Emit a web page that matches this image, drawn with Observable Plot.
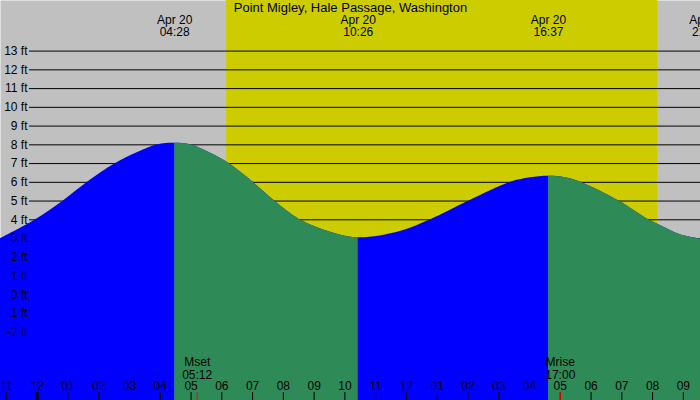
<!DOCTYPE html>
<html><head><meta charset="utf-8">
<script src="https://cdn.jsdelivr.net/npm/d3@7"></script>
<script src="https://cdn.jsdelivr.net/npm/@observablehq/plot@0.6"></script>
<style>body{margin:0;background:#fff}</style>
</head><body><div id="chart"></div>
<script>
const title = "Point Migley, Hale Passage, Washington";

// Tide heights (time, ft)
const readingTimes = [
  "2024-04-19 22:48:26", "2024-04-19 23:57", "2024-04-20 00:51", "2024-04-20 01:38",
  "2024-04-20 02:33", "2024-04-20 03:55", "2024-04-20 04:28",
  "2024-04-20 04:59", "2024-04-20 05:38", "2024-04-20 06:14", "2024-04-20 07:01",
  "2024-04-20 07:43", "2024-04-20 08:32", "2024-04-20 09:32", "2024-04-20 10:26",
  "2024-04-20 11:48", "2024-04-20 12:47", "2024-04-20 14:02", "2024-04-20 15:23",
  "2024-04-20 16:02", "2024-04-20 16:37", "2024-04-20 17:10", "2024-04-20 17:40",
  "2024-04-20 18:54", "2024-04-20 19:52", "2024-04-20 20:15", "2024-04-20 20:54",
  "2024-04-20 21:33:24"
];
const readingFt = [
  2.99, 4.0, 5.0, 6.0,
  7.0, 8.0, 8.09,
  8.0, 7.55, 7.0, 6.0,
  5.0, 4.0, 3.34, 3.04,
  3.38, 4.0, 5.0, 6.0,
  6.24, 6.32, 6.24, 6.0,
  5.0, 4.0, 3.7, 3.2,
  2.97
];

// High / low tide events
const extremeTimes = ["2024-04-20 04:28", "2024-04-20 10:26", "2024-04-20 16:37", "2024-04-20 21:46"];
const extremeLabels = ["Apr 20\n04:28", "Apr 20\n10:26", "Apr 20\n16:37", "Apr 20\n21:46"];

// Daylight (sunrise, sunset)
const sunTimes = ["2024-04-20 06:09", "2024-04-20 20:10"];

// Moon events
const moonTimes = ["2024-04-20 05:12", "2024-04-20 17:00"];
const moonLabels = ["Mset\n05:12", "Mrise\n17:00"];

// Axis ticks
const ftTicks = [-2, -1, 0, 1, 2, 3, 4, 5, 6, 7, 8, 9, 10, 11, 12, 13];
const hourTicks = [
  "2024-04-19 23:00", "2024-04-20 00:00", "2024-04-20 01:00", "2024-04-20 02:00",
  "2024-04-20 03:00", "2024-04-20 04:00", "2024-04-20 05:00", "2024-04-20 06:00",
  "2024-04-20 07:00", "2024-04-20 08:00", "2024-04-20 09:00", "2024-04-20 10:00",
  "2024-04-20 11:00", "2024-04-20 12:00", "2024-04-20 13:00", "2024-04-20 14:00",
  "2024-04-20 15:00", "2024-04-20 16:00", "2024-04-20 17:00", "2024-04-20 18:00",
  "2024-04-20 19:00", "2024-04-20 20:00", "2024-04-20 21:00"
];
const hourLabels = ["11","12","01","02","03","04","05","06","07","08","09","10",
                    "11","12","01","02","03","04","05","06","07","08","09"];

const xDomainText = ["2024-04-19 22:48:26", "2024-04-20 21:33:24"];
const yDomain = [-5.64, 15.7];

const colors = {rising: "#0000ff", falling: "#2e8b57", night: "#c0c0c0", day: "#cccc00"};

const p1 = d3.timeParse("%Y-%m-%d %H:%M:%S"), p2 = d3.timeParse("%Y-%m-%d %H:%M");
const parse = s => s.length > 16 ? p1(s) : p2(s);

const xDomain = xDomainText.map(parse);
const readings = readingTimes.map((t, i) => ({t: parse(t), ft: readingFt[i]}));
const extremes = extremeTimes.map((t, i) => ({t: parse(t), label: extremeLabels[i]}));

// falling intervals between consecutive extremes
const bounds = [xDomain[0], ...extremes.map(d => d.t).filter(t => t > xDomain[0] && t < xDomain[1]), xDomain[1]];
const ftAt = t => readings.find(d => +d.t === +t).ft;
const falling = [];
for (let i = 0; i < bounds.length - 1; i++) {
  if (ftAt(bounds[i + 1]) < ftAt(bounds[i])) falling.push([bounds[i], bounds[i + 1]]);
}

const hours = hourTicks.map((t, i) => ({t: parse(t), label: hourLabels[i]}));
const moons = moonTimes.map((t, i) => ({t: parse(t), label: moonLabels[i]}));
const sun = [{rise: parse(sunTimes[0]), set: parse(sunTimes[1])}];

const W = 700, H = 400;
const chart = Plot.plot({
  width: W, height: H,
  margin: 0,
  style: {fontFamily: "'Liberation Sans', Arial, sans-serif", fontSize: "12px", background: "#fff", color: "black"},
  x: {type: "time", domain: xDomain, axis: null},
  y: {domain: yDomain, axis: null},
  marks: [
    Plot.frame({fill: colors.night, stroke: null}),
    Plot.rect(sun, {x1: "rise", x2: "set", fill: colors.day}),
    Plot.ruleY(ftTicks, {y: d => d, insetLeft: 29, stroke: "black", strokeWidth: 1}),
    Plot.areaY(readings, {x: "t", y1: yDomain[0], y2: "ft", fill: colors.rising, curve: "catmull-rom"}),
    Plot.areaY(readings, {x: "t", y1: yDomain[0], y2: "ft", fill: colors.falling, curve: "catmull-rom"}),
    Plot.ruleX(hours, {x: "t", insetTop: 392, stroke: "black", strokeWidth: d => d.t.getHours() === 0 ? 3 : 1}),
    Plot.ruleX(moons, {x: "t", insetTop: 392, stroke: "red", strokeWidth: 1}),
    Plot.text(hours, {x: "t", text: "label", frameAnchor: "bottom", lineAnchor: "middle", dy: -14, fill: "black"}),
    Plot.text(moons, {x: "t", text: "label", frameAnchor: "bottom", lineAnchor: "middle", dy: -32, lineHeight: 1.03, fill: "black"}),
    Plot.text(extremes, {x: "t", text: "label", frameAnchor: "top", lineAnchor: "middle", dy: 26, lineHeight: 1.0, fill: "black"}),
    Plot.text([title], {text: d => d, frameAnchor: "top", lineAnchor: "middle", dy: 7, fill: "black", fontSize: 13}),
    Plot.text(ftTicks, {y: d => d, text: d => `${d} ft`, frameAnchor: "left", dx: 27, textAnchor: "end", fill: "black"})
  ]
});

// restrict the green (falling) area to the falling intervals
const xs = d3.scaleTime().domain(xDomain).range([0, W]);
const svg = d3.select(chart.tagName.toLowerCase() === "svg" ? chart : chart.querySelector("svg"));
const clip = svg.append("defs").append("clipPath").attr("id", "falling-clip");
falling.forEach(([a, b]) => clip.append("rect").attr("x", xs(a)).attr("y", 0).attr("width", xs(b) - xs(a)).attr("height", H));
const areas = svg.selectAll('g[aria-label="area"]').nodes();
if (areas.length > 1) d3.select(areas[1]).attr("clip-path", "url(#falling-clip)");

document.getElementById("chart").append(chart);
</script>
</body></html>
